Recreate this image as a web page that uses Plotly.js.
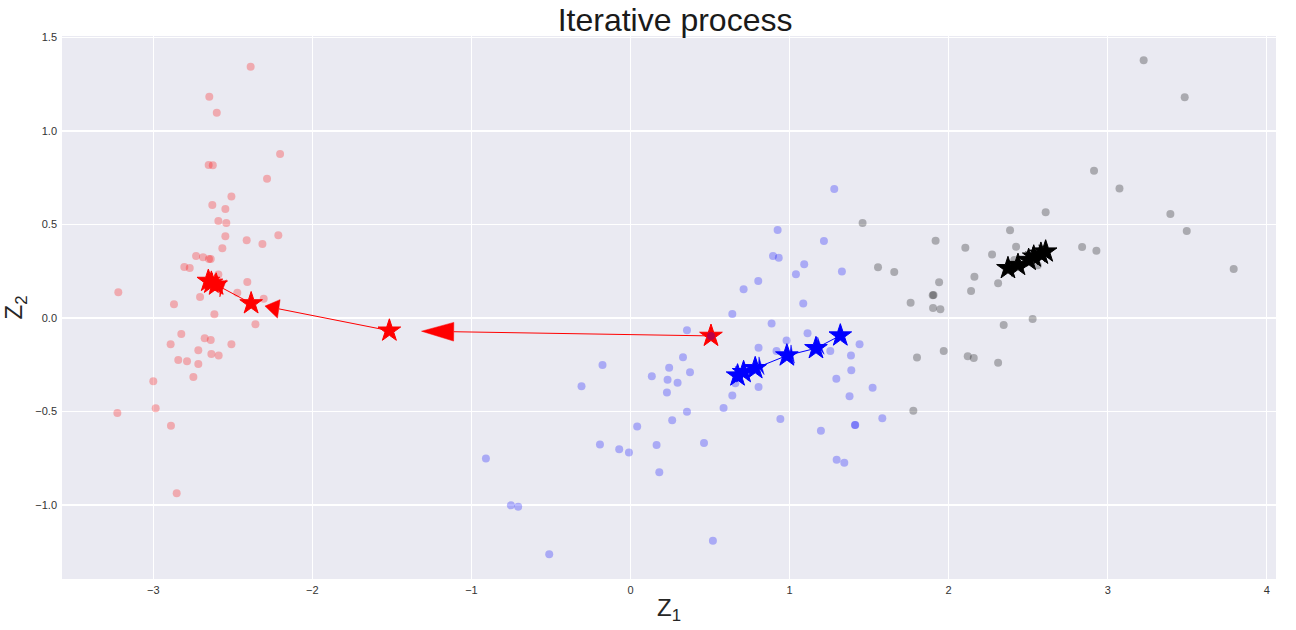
<!DOCTYPE html>
<html>
<head>
<meta charset="utf-8">
<script src="https://cdn.plot.ly/plotly-3.0.1.min.js"></script>
<style>
  html, body { margin: 0; padding: 0; background: #fff; }
  #chart { width: 1296px; height: 630px; }
</style>
</head>
<body>
<div id="chart"></div>
<script>
"use strict";

// points, coloured by the cluster they ended up in
var redX = [-2.388, -2.648, -2.601, -2.203, -2.652, -2.626, -2.285, -2.509, -2.629, -2.547,
            -2.591, -2.541, -2.547, -2.413, -2.314, -2.214, -2.566, -2.731, -2.687, -2.650,
            -2.639, -2.805, -2.771, -2.591, -2.409, -3.220, -2.706, -2.472, -2.306, -2.870,
            -2.616, -2.358, -2.824, -2.891, -2.677, -2.639, -2.509, -2.717, -2.635, -2.589,
            -2.843, -2.788, -2.717, -2.748, -3.000, -2.985, -3.226, -2.889, -2.853];
var redY = [1.344, 1.183, 1.098, 0.877, 0.818, 0.817, 0.745, 0.649, 0.604, 0.583,
            0.519, 0.508, 0.437, 0.415, 0.396, 0.442, 0.373, 0.332, 0.325, 0.316,
            0.316, 0.273, 0.267, 0.233, 0.193, 0.137, 0.112, 0.135, 0.103, 0.073,
            0.020, -0.034, -0.086, -0.141, -0.109, -0.118, -0.141, -0.173, -0.193, -0.201,
            -0.225, -0.232, -0.246, -0.316, -0.339, -0.483, -0.508, -0.576, -0.938];

var blueX = [0.640, 0.355, 0.330, 0.243, 0.374, 0.134, 0.233, 0.296, -0.176, -0.308,
             0.229, 0.640, 0.659, 0.805, 0.805, 0.585, 0.355, 0.262, 0.042, 0.462,
             -0.192, -0.071, -0.010, 0.164, 0.181, -0.909, -0.752, -0.706, -0.511, 0.518,
             1.281, 0.925, 1.216, 0.896, 0.932, 1.092, 1.040, 1.329, 0.803, 0.711,
             1.086, 0.887, 1.113, 1.440, 0.981, 0.918, 1.256, 1.386, 1.388, 1.294,
             1.522, 1.377, 0.942, 1.583, 1.411, 1.413, 1.197, 1.296, 1.344, 0.506];
var blueY = [0.021, -0.066, -0.210, -0.266, -0.290, -0.312, -0.330, -0.346, -0.251, -0.365,
             -0.399, -0.415, -0.349, -0.159, -0.369, -0.481, -0.501, -0.547, -0.581, -0.668,
             -0.677, -0.702, -0.720, -0.679, -0.825, -0.752, -1.002, -1.009, -1.264, -1.191,
             0.690, 0.471, 0.412, 0.332, 0.322, 0.287, 0.234, 0.248, 0.198, 0.153,
             0.078, -0.030, -0.082, -0.141, -0.121, -0.176, -0.176, -0.201, -0.280, -0.325,
             -0.373, -0.419, -0.540, -0.536, -0.572, -0.573, -0.603, -0.758, -0.774, -0.096];

var blackX = [1.459, 1.556, 1.658, 1.918, 2.105, 2.273, 1.940, 2.162, 2.141, 2.311,
              1.900, 1.905, 1.761, 1.902, 1.948, 1.801, 1.969, 2.120, 2.158, 2.311,
              1.778, 2.610, 2.386, 2.424, 2.839, 2.929, 2.413, 2.560, 2.346, 2.528,
              3.226, 3.484, 2.914, 3.074, 3.394, 3.497, 3.792];
var blackY = [0.508, 0.271, 0.246, 0.413, 0.376, 0.340, 0.191, 0.221, 0.144, 0.186,
              0.121, 0.123, 0.082, 0.053, 0.047, -0.212, -0.176, -0.205, -0.214, -0.239,
              -0.496, 0.565, 0.469, 0.381, 0.380, 0.360, 0.310, 0.282, -0.037, -0.005,
              1.378, 1.180, 0.788, 0.693, 0.556, 0.465, 0.262];

// centroid positions, one per iteration
var redPathX = [0.506, -1.516, -2.385, -2.605, -2.635, -2.654];
var redPathY = [-0.096, -0.068, 0.078, 0.178, 0.188, 0.198];
var bluePathX = [1.319, 1.166, 0.983, 0.784, 0.711, 0.673];
var bluePathY = [-0.094, -0.162, -0.201, -0.269, -0.290, -0.308];
var blackPathX = [2.610, 2.580, 2.535, 2.503, 2.436, 2.373];
var blackPathY = [0.355, 0.343, 0.328, 0.310, 0.283, 0.266];

var FONT = "Liberation Sans, Arial, sans-serif";

// arrow like plt.arrow: stops at 90% of the step, head 0.1 wide
function arrowTraces(px, py, color) {
    var sx = [], sy = [], hx = [], hy = [];
    for (var i = 0; i < px.length - 1; i++) {
        var dx = px[i + 1] - px[i], dy = py[i + 1] - py[i];
        var len = Math.sqrt(dx * dx + dy * dy);
        if (len === 0) continue;
        var ux = dx / len, uy = dy / len;
        var tipX = px[i] + 0.9 * dx, tipY = py[i] + 0.9 * dy;
        var hl = 0.1 * len, hw = 0.05;
        var bx = tipX - hl * ux, by = tipY - hl * uy;
        sx.push(px[i], bx, null);
        sy.push(py[i], by, null);
        hx.push(tipX, bx - hw * uy, bx + hw * uy, tipX, null);
        hy.push(tipY, by + hw * ux, by - hw * ux, tipY, null);
    }
    return [
        { x: sx, y: sy, mode: "lines", line: { color: color, width: 1 }, hoverinfo: "skip" },
        { x: hx, y: hy, mode: "lines", fill: "toself", fillcolor: color,
          line: { color: color, width: 0.5 }, hoverinfo: "skip" }
    ];
}

function starTrace(px, py, color) {
    return {
        x: px, y: py, mode: "markers",
        marker: { symbol: "star", size: 17, color: color, line: { color: color, width: 1 } }
    };
}

function dotTrace(x, y, color) {
    return {
        x: x, y: y, mode: "markers",
        marker: { symbol: "circle", size: 8, color: color, line: { width: 0 } }
    };
}

var data = []
    .concat(arrowTraces(redPathX, redPathY, "red"))
    .concat(arrowTraces(bluePathX, bluePathY, "blue"))
    .concat(arrowTraces(blackPathX, blackPathY, "black"))
    .concat([
        starTrace(redPathX, redPathY, "red"),
        starTrace(bluePathX, bluePathY, "blue"),
        starTrace(blackPathX, blackPathY, "black"),
        dotTrace(redX, redY, "rgba(255,0,0,0.27)"),
        dotTrace(blueX, blueY, "rgba(0,0,255,0.27)"),
        dotTrace(blackX, blackY, "rgba(0,0,0,0.27)")
    ]);

var layout = {
    width: 1296,
    height: 630,
    showlegend: false,
    paper_bgcolor: "#ffffff",
    plot_bgcolor: "#EAEAF2",
    margin: { l: 62, r: 20, t: 36, b: 51 },
    font: { family: FONT, color: "#262626" },
    title: {
        text: "Iterative process",
        font: { family: FONT, size: 32, color: "#1a1a1a" },
        x: 0.505, xref: "paper",
        y: 0.968, yref: "container", yanchor: "middle"
    },
    xaxis: {
        range: [-3.574, 4.058],
        tick0: 0, dtick: 1,
        showgrid: true, gridcolor: "#ffffff", gridwidth: 1.3,
        zeroline: false, showline: false, ticks: "",
        tickfont: { family: FONT, size: 11, color: "#333333" },
        ticklabelstandoff: 3,
        title: { text: "Z<sub>1</sub>", font: { family: FONT, size: 24, color: "#262626" }, standoff: 4 }
    },
    yaxis: {
        range: [-1.396, 1.508],
        tick0: 0, dtick: 0.5, tickformat: ".1f",
        showgrid: true, gridcolor: "#ffffff", gridwidth: 1.3,
        zeroline: false, showline: false, ticks: "",
        tickfont: { family: FONT, size: 11, color: "#333333" },
        ticklabelstandoff: 4,
        title: { text: "Z<sub>2</sub>", font: { family: FONT, size: 24, color: "#262626" }, standoff: 6 }
    }
};

Plotly.newPlot("chart", data, layout, { displayModeBar: false, staticPlot: true });
</script>
</body>
</html>
